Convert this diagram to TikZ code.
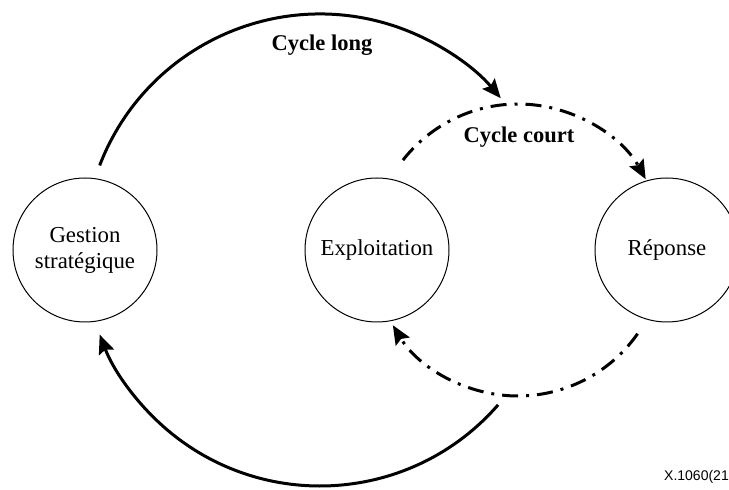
\documentclass[tikz,border=0pt]{standalone}
\usepackage{fontspec}
\setmainfont{Liberation Serif}
\newfontfamily\labelsans{Liberation Sans}
\usetikzlibrary{arrows.meta,calc}
\tikzset{
  state/.style={draw, circle, minimum size=144pt, inner sep=0pt, line width=1pt, font=\fontsize{22.8}{26}\selectfont, align=center},
  longarc/.style={line width=3pt, -{Stealth[length=19pt,width=16pt,inset=3pt]}},
  shortarc/.style={line width=3pt, dash pattern=on 16pt off 8pt on 3pt off 8pt, -{Stealth[length=19pt,width=16pt,inset=3pt]}},
  cyclelabel/.style={font=\fontsize{22.5}{26}\selectfont\bfseries}
}
\begin{document}
\begin{tikzpicture}[x=1pt,y=1pt]
\useasboundingbox (0,0) rectangle (729,490);
\node[state] (gs) at (85,240) {Gestion\\strat\'egique};
\node[state] (ex) at (377,240) {Exploitation};
\node[state] (re) at (667,240) {R\'eponse};
\coordinate (bc) at (320,240);
\coordinate (sc) at (518,240);
\coordinate (lts) at ($(bc)+(159:236)$);
\coordinate (lbs) at ($(bc)+(-41:236)$);
\coordinate (sts) at ($(sc)+(142:146)$);
\coordinate (sbs) at ($(sc)+(-35:146)$);
\draw[longarc] (lts) arc[start angle=159, end angle=40, radius=236];
\draw[longarc] (lbs) arc[start angle=-41, end angle=-159, radius=236];
\draw[shortarc] (sts) arc[start angle=142, end angle=29, radius=146];
\draw[shortarc] (sbs) arc[start angle=-35, end angle=-149, radius=146];
\node[cyclelabel] (cl) at (322,445) {Cycle long};
\node[cyclelabel] (cc) at (519,353) {Cycle court};
\node[font=\labelsans\fontsize{14}{16}\selectfont, anchor=east, inner sep=0pt] (ref) at (729,13) {X.1060(21};
\end{tikzpicture}
\end{document}
